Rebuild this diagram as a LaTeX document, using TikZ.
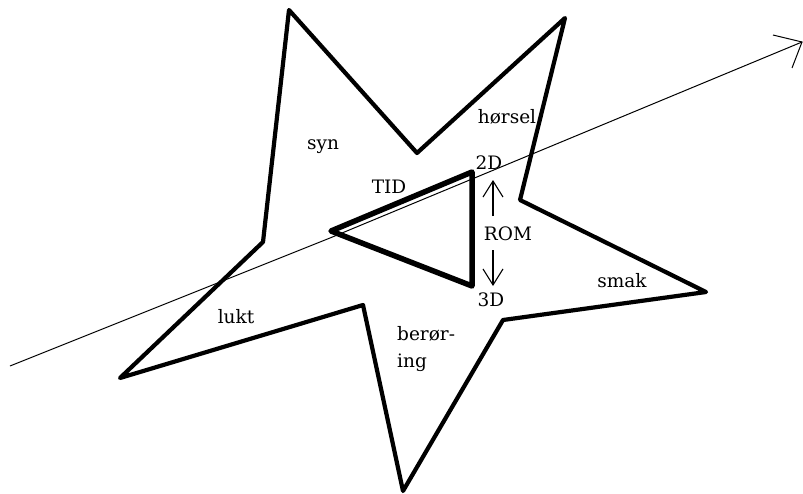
\documentclass[tikz,border=0pt]{standalone}
\usepackage{fontspec}
\setmainfont{DejaVu Serif}
\usetikzlibrary{arrows.meta}
\begin{document}
\begin{tikzpicture}[x=1pt,y=-1pt,
  starline/.style={line width=4.2pt,line join=round},
  triline/.style={line width=5.5pt,line join=round},
  axisline/.style={line width=1pt},
  romarrow/.style={line width=1.1pt,-{Straight Barb[length=16pt,width=20pt]}},
  lbl/.style={font=\fontsize{18.5}{27}\selectfont,inner sep=0pt,anchor=base}]
\useasboundingbox (0,0) rectangle (803,493);
\fill[white] (0,0) rectangle (803,493);

% five-pointed outline, corners clockwise from the top point
\coordinate (ptop)   at (289,10);
\coordinate (itr)    at (417,153);
\coordinate (pright) at (565,18);
\coordinate (ir)     at (520,200);
\coordinate (psmak)  at (706,292);
\coordinate (ibr)    at (503,320);
\coordinate (pbot)   at (403,491);
\coordinate (ibl)    at (363,305);
\coordinate (plukt)  at (120,378);
\coordinate (il)     at (263,242);
\draw[starline] (ptop) -- (itr) -- (pright) -- (ir) -- (psmak) -- (ibr)
  -- (pbot) -- (ibl) -- (plukt) -- (il) -- cycle;

% time axis crossing the figure (slightly bent, drawn by hand)
\coordinate (tstart) at (10,366);
\coordinate (tbend)  at (330,238);
\coordinate (tend)   at (802,42);
\coordinate (tarm1)  at (773,35);
\coordinate (tarm2)  at (792,68);
\draw[axisline] (tstart) -- (tbend) -- (tend);
\draw[axisline] (tarm1) -- (tend) -- (tarm2);

% triangle
\coordinate (ta) at (331,231);
\coordinate (tb) at (472,172);
\coordinate (tc) at (472,286);
\draw[triline] (ta) -- (tb) -- (tc) -- cycle;

% labels
\node[lbl] (syn)    at (323,149) {syn};
\node[lbl] (horsel) at (507,123) {hørsel};
\node[lbl] (tid)    at (389,193) {TID};
\node[lbl] (d2)     at (489,169) {2D};
\node[lbl] (rom)    at (508,240) {ROM};
\node[lbl] (d3)     at (491,306) {3D};
\node[lbl] (smak)   at (622,287) {smak};
\node[lbl] (lukt)   at (236,323) {lukt};
\node[lbl,anchor=base west,align=left] (beroring) at (397,367) {berør-\\ing};

% space arrows between 2D and 3D
\coordinate (upfrom)   at (493,216);
\coordinate (upto)     at (493,180);
\coordinate (downfrom) at (493,250);
\coordinate (downto)   at (493,286);
\draw[romarrow] (upfrom) -- (upto);
\draw[romarrow] (downfrom) -- (downto);
\end{tikzpicture}
\end{document}
